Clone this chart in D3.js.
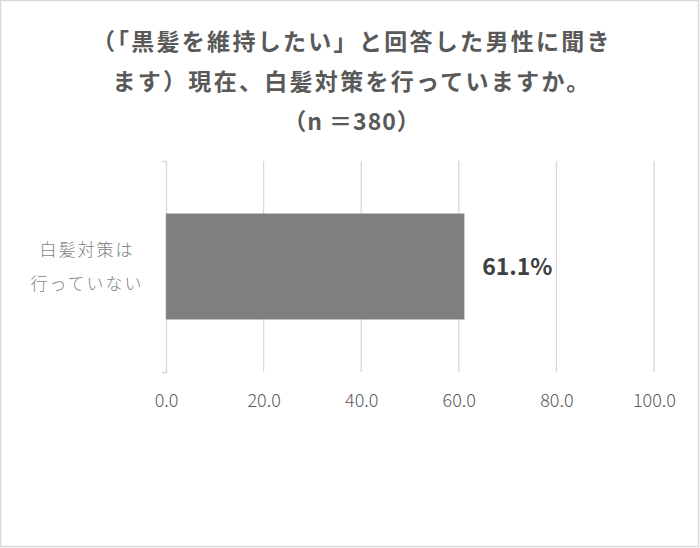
<!DOCTYPE html>
<html>
<head>
<meta charset="utf-8">
<script src="https://cdn.jsdelivr.net/npm/d3@7"></script>
<style>
  body { margin: 0; background: #fff; }
  svg { display: block; }
  text { font-family: "Noto Sans CJK JP", "Noto Sans", sans-serif; }
</style>
</head>
<body>
<svg width="700" height="548"></svg>
<script>
// data
var titleLines = ['（「黒髪を維持したい」と回答した男性に聞き', 'ます）現在、白髪対策を行っていますか。', '（n ＝380）'];
var categories = ['白髪対策は行っていない'];
var categoryLines = [['白髪対策は', '行っていない']];
var values = [61.1];
var tickValues = [0, 20, 40, 60, 80, 100];

var svg = d3.select('svg');

svg.append('rect')
    .attr('x', 0.5).attr('y', 0.5)
    .attr('width', 698).attr('height', 546)
    .attr('fill', '#fff')
    .attr('stroke', '#d9d9d9')
    .attr('stroke-width', 1.5);

// title
svg.selectAll('text.title')
    .data(titleLines)
    .enter()
    .append('text')
    .attr('class', 'title')
    .attr('x', 352)
    .attr('y', function(d, i){ return 50 + i * 40; })
    .attr('text-anchor', 'middle')
    .attr('font-size', 23)
    .attr('font-weight', 'bold')
    .attr('letter-spacing', function(d, i){ return i == 2 ? 1 : 2.3; })
    .attr('fill', '#595959')
    .text(function(d){ return d; });

var x = d3.scaleLinear().domain([0, 100]).range([166, 654]);
var y = d3.scaleBand().domain(categories).range([161, 372]).paddingInner(0).paddingOuter(0.5);

// gridlines
svg.selectAll('line.grid')
    .data(tickValues.slice(1))
    .enter()
    .append('line')
    .attr('class', 'grid')
    .attr('x1', function(d){ return x(d); })
    .attr('x2', function(d){ return x(d); })
    .attr('y1', 161)
    .attr('y2', 372)
    .attr('stroke', '#d9d9d9')
    .attr('stroke-width', 1.3);

// y axis with outer ticks
var yAxis = d3.axisLeft(y).tickSize(0).tickSizeOuter(4).tickFormat('');
var gy = svg.append('g')
    .attr('transform', 'translate(166,0)')
    .call(yAxis);
gy.select('.domain').attr('stroke', '#d9d9d9').attr('stroke-width', 1.3);
gy.selectAll('.tick').remove();

// x axis labels
var xAxis = d3.axisBottom(x).tickValues(tickValues).tickSize(0).tickFormat(d3.format('.1f'));
var gx = svg.append('g')
    .attr('transform', 'translate(0,391)')
    .call(xAxis);
gx.select('.domain').remove();
gx.selectAll('text')
    .attr('font-size', 18)
    .attr('font-weight', 300)
    .attr('fill', '#595959')
    .style('font-family', '"Noto Sans CJK JP", sans-serif');

// bars
svg.selectAll('rect.bar')
    .data(values)
    .enter()
    .append('rect')
    .attr('class', 'bar')
    .attr('x', x(0))
    .attr('y', function(d, i){ return y(categories[i]); })
    .attr('width', function(d){ return x(d) - x(0); })
    .attr('height', y.bandwidth())
    .attr('fill', '#7f7f7f')
    .attr('stroke', '#a6a6a6')
    .attr('stroke-width', 0.5);

// value labels
svg.selectAll('text.val')
    .data(values)
    .enter()
    .append('text')
    .attr('class', 'val')
    .attr('x', function(d){ return x(d) + 18; })
    .attr('y', function(d, i){ return y(categories[i]) + y.bandwidth() / 2 + 8; })
    .attr('font-size', 23)
    .attr('font-weight', 'bold')
    .attr('fill', '#404040')
    .text(function(d){ return d3.format('.1f')(d) + '%'; });

// category labels
categoryLines.forEach(function(lines, i){
    var cy = y(categories[i]) + y.bandwidth() / 2;
    svg.selectAll(null)
        .data(lines)
        .enter()
        .append('text')
        .attr('x', 87)
        .attr('y', function(d, j){ return cy - 17 + 6 + j * 34; })
        .attr('text-anchor', 'middle')
        .attr('font-size', 17)
        .attr('font-weight', 300)
        .attr('letter-spacing', 2)
        .attr('fill', '#7f7f7f')
        .text(function(d){ return d; });
});
</script>
</body>
</html>
